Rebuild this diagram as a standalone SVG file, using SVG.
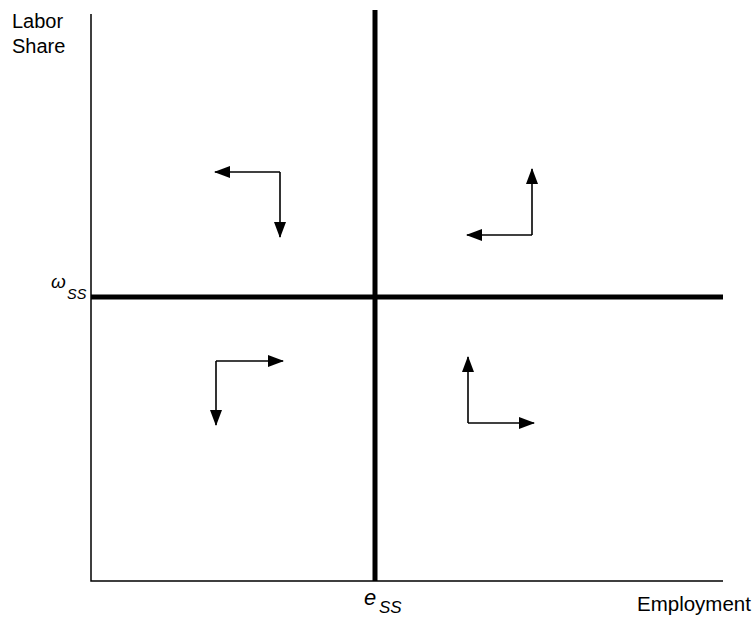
<svg xmlns="http://www.w3.org/2000/svg" width="756" height="620" viewBox="0 0 756 620">
<style>
text{font-family:"Liberation Sans",Arial,sans-serif;fill:#000}
.ax{stroke:#000;stroke-width:1.5;fill:none}
.thick{stroke:#000;stroke-width:5;fill:none}
.arr{stroke:#000;stroke-width:1.6;fill:none}
</style>
<defs>
<marker id="ah" markerWidth="16" markerHeight="12" refX="15" refY="6" orient="auto" markerUnits="userSpaceOnUse">
<path d="M0,0 L16,6 L0,12 Z" fill="#000"/>
</marker>
</defs>
<rect width="756" height="620" fill="#fff"/>
<g id="axes">
<path class="ax" d="M91,14 V581 H723"/>
</g>
<g id="lines">
<path class="thick" d="M375,10 V581"/>
<path class="thick" d="M91,297 H723"/>
</g>
<g id="labels">
<text x="12" y="28" font-size="20">Labor</text>
<text x="12" y="53" font-size="20">Share</text>
<text x="51" y="288" font-size="19" font-family="Liberation Serif" font-style="italic">ω</text>
<text x="67" y="299" font-size="14.5" font-style="italic">SS</text>
<text x="364" y="605" font-size="22" font-style="italic">e</text>
<text x="379" y="613" font-size="17" font-style="italic">SS</text>
<text x="637" y="611" font-size="20.5">Employment</text>
</g>
<g id="connectors">
<path class="arr" marker-end="url(#ah)" d="M280,172 H215"/>
<path class="arr" marker-end="url(#ah)" d="M280,172 V237"/>
<path class="arr" marker-end="url(#ah)" d="M532,235 H467"/>
<path class="arr" marker-end="url(#ah)" d="M532,235 V169"/>
<path class="arr" marker-end="url(#ah)" d="M216,361 H283"/>
<path class="arr" marker-end="url(#ah)" d="M216,361 V425"/>
<path class="arr" marker-end="url(#ah)" d="M468,423 H534"/>
<path class="arr" marker-end="url(#ah)" d="M468,423 V357"/>
</g>
</svg>
